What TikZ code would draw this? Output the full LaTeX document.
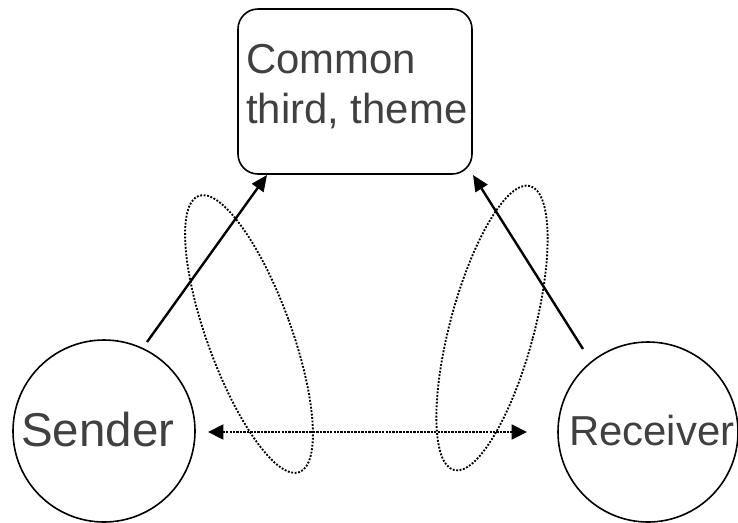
\documentclass[tikz,border=0pt]{standalone}
\usepackage{fontspec}
\setmainfont{Liberation Sans}
\usetikzlibrary{arrows.meta}
\definecolor{labelgray}{RGB}{64,64,64}
\begin{document}
\begin{tikzpicture}[x=0.75pt,y=-0.75pt,
  themebox/.style={draw,line width=1.2pt,rounded corners=15pt,minimum width=175.5pt,minimum height=123.75pt,inner sep=0pt},
  party/.style={draw,circle,line width=1.2pt,inner sep=0pt},
  lbl/.style={text=labelgray,inner sep=0pt,anchor=base west},
  link/.style={line width=1.8pt,-{Triangle[length=12pt,width=10.5pt]}},
  exchange/.style={line width=2.2pt,dash pattern=on 1.8pt off 0.8pt,{Triangle[length=11.5pt,width=11pt]}-{Triangle[length=11.5pt,width=11pt]}},
  focus/.style={line width=1.4pt,dash pattern=on 1.4pt off 1.2pt}]
\useasboundingbox (0,0) rectangle (738,522);

% common third
\node[themebox] (theme) at (355,91.5) {};
\node[lbl,font=\fontsize{31.4}{36}\selectfont] (l1) at (246,73) {Common};
\node[lbl,font=\fontsize{31.4}{36}\selectfont] (l2) at (246,123) {third, theme};

% the two parties
\node[party,minimum size=136.5pt] (sender) at (104,431) {};
\node[party,minimum size=135pt] (receiver) at (648,432) {};
\node[lbl,font=\fontsize{35.6}{42}\selectfont] (ls) at (21,446) {Sender};
\node[lbl,font=\fontsize{31.4}{36}\selectfont] (lr) at (569,445) {Receiver};

% arrows towards the theme
\coordinate (s1) at (147,342);
\coordinate (t1) at (267,175);
\coordinate (r1) at (583,349);
\coordinate (t2) at (473,175);
\draw[link] (s1) -- (t1);
\draw[link] (r1) -- (t2);

% exchange between sender and receiver
\coordinate (e1) at (208,432);
\coordinate (e2) at (527,432);
\draw[exchange] (e1) -- (e2);

% dotted loops around each relation
\coordinate (c1) at (249,334);
\coordinate (c2) at (492,328);
\draw[focus,rotate around={20:(c1)}] (c1) ellipse [x radius=42,y radius=147];
\draw[focus,rotate around={-15:(c2)}] (c2) ellipse [x radius=42,y radius=147];
\end{tikzpicture}
\end{document}
